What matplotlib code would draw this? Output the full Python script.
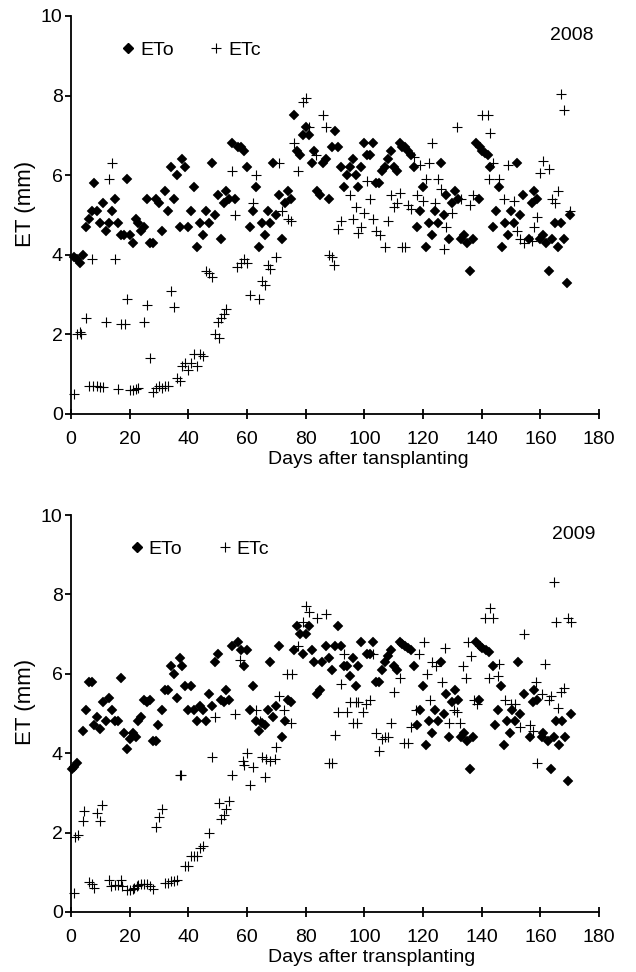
import matplotlib
matplotlib.use("Agg")
import matplotlib.pyplot as plt
from matplotlib.lines import Line2D

plt.rcParams['font.family'] = ['Liberation Sans', 'DejaVu Sans']

# ---------------- 2008 ----------------
eto08 = [(1,3.95),(2,3.9),(3,3.8),(4,4.0),(5,4.7),(6,4.9),(7,5.1),(8,5.8),(9,5.1),(10,4.8),(11,5.3),(12,4.6),
         (13,4.8),(14,5.1),(15,5.4),(16,4.8),(17,4.5),(18,4.5),(19,5.9),(20,4.5),(21,4.3),(22,4.9),(23,4.8),(24,4.6),
         (25,4.7),(26,5.4),(27,4.3),(28,4.3),(29,5.4),(30,5.3),(31,4.6),(32,5.6),(33,5.1),(34,6.2),(35,5.4),(36,6.0),
         (37,4.7),(38,6.4),(39,6.2),(40,4.7),(41,5.1),(42,5.7),(43,4.2),(44,4.8),(45,4.5),(46,5.1),(47,4.8),(48,6.3),
         (49,5.0),(50,5.5),(51,4.4),(52,5.3),(53,5.6),(54,5.4),(55,6.8),(56,5.4),(57,6.7),(58,6.7),(59,6.6),(60,6.2),
         (61,4.7),(62,5.1),(63,5.7),(64,4.2),(65,4.8),(66,4.5),(67,5.1),(68,4.8),(69,6.3),(70,5.0),(71,5.5),(72,4.4),
         (73,5.3),(74,5.6),(75,5.4),(76,7.5),(77,6.6),(78,6.5),(79,7.0),(80,7.2),(81,7.0),(82,6.3),(83,6.6),(84,5.6),
         (85,5.5),(86,6.3),(87,6.4),(88,5.4),(89,6.7),(90,7.1),(91,6.7),(92,6.2),(93,5.7),(94,6.0),(95,6.2),(96,6.4),
         (97,6.0),(98,5.7),(99,6.2),(100,6.8),(101,6.5),(102,6.5),(103,6.8),(104,5.8),(105,5.8),(106,6.1),(107,6.2),
         (108,6.4),(109,6.6),(110,6.2),(111,6.1),(112,6.8),(113,6.7),(114,6.7),(115,6.6),(116,6.5),(117,6.2),(118,4.7),
         (119,5.1),(120,5.7),(121,4.2),(122,4.8),(123,4.5),(124,5.1),(125,4.8),(126,6.3),(127,5.0),(128,5.5),(129,4.4),
         (130,5.3),(131,5.6),(132,5.4),(133,4.4),(134,4.5),(135,4.3),(136,3.6),(137,4.4),(138,6.8),(139,5.4),(139.5,6.7),
         (140,6.6),(141,6.55),(142,6.5),(143,6.2),(144,4.7),(145,5.1),(146,5.7),(147,4.2),(148,4.8),(149,4.5),(150,5.1),
         (151,4.8),(152,6.3),(153,5.0),(154,5.5),(156,4.4),(157,5.3),(158,5.6),(159,5.4),(160,4.4),(161,4.5),(162,4.3),
         (163,3.6),(164,4.4),(165,4.8),(166,4.2),(167,4.8),(168,4.4),(169,3.3),(170,5.0)]

etc08 = [(1,0.5),(2,2.0),(3,2.05),(3.5,2.0),(5,2.4),(7,3.9),(6,0.7),(7.5,0.7),(9,0.7),(10,0.68),(11,0.68),(12,2.3),
         (13,5.9),(14,6.3),(15,3.9),(16,0.63),(17,2.25),(18.5,2.25),(19,2.9),(20,0.6),(21,0.6),(22,0.63),(23,0.65),
         (25,2.3),(26,2.75),(27,1.4),(28,0.55),(29,0.65),(30,0.7),(31,0.65),(32,0.7),(33,0.7),(34,3.1),(35,2.7),
         (36,0.9),(37,0.82),(38,1.2),(39,1.28),(40,1.1),(41,1.28),(42,1.5),(43,1.2),(44,1.5),(45,1.45),(46,3.6),
         (47,3.55),(48,3.45),(49,2.0),(50,2.3),(50.5,1.9),(51,2.4),(52,2.5),(53,2.65),(55,6.1),(56,5.0),(56.5,3.7),
         (58,3.8),(59,3.9),(60,3.8),(61,3.0),(62,5.3),(63,6.0),(64,2.9),(65,3.35),(66,3.25),(67,3.75),(68,3.65),
         (70,3.95),(71,6.3),(72,5.1),(74,4.9),(75,4.85),(76,6.8),(77.5,6.1),(79,7.85),(80,7.95),(81,7.2),(83.5,6.5),
         (86,7.5),(87,7.2),(88,4.0),(89,3.95),(89.5,3.75),(91,4.65),(92,4.85),(95,5.5),(96,4.9),(97,5.2),(98,4.55),
         (99,4.7),(100,5.05),(101,5.85),(102,5.4),(103,4.9),(104,4.6),(105.5,4.5),(107,4.2),(108,4.85),(109,5.5),
         (110,5.2),(111,5.3),(112,5.55),(113,4.2),(114,4.2),(115,5.25),(116,5.15),(117,6.45),(118,5.5),(119,6.25),
         (120,5.35),(121,5.9),(122,6.3),(123,6.8),(124,5.3),(125,5.9),(126,5.65),(127,4.15),(128,4.7),(130,5.05),
         (131.7,7.2),(133,5.4),(136,5.25),(137,5.5),(140,7.5),(142,7.5),(143,7.05),(142.5,5.9),(144,6.3),(146,5.9),
         (147.5,5.4),(149,6.25),(151,5.35),(152,4.6),(153,4.4),(154.5,4.3),(157,4.35),(158,4.7),(159,4.95),(160,6.05),
         (161,6.35),(163,6.15),(164,5.4),(165,5.3),(166,5.6),(167,8.05),(168,7.65),(170,5.1)]

# ---------------- 2009 ----------------
eto09 = [(0.5,3.6),(1,3.65),(2,3.75),(4,4.55),(5,5.1),(6,5.8),(7,5.8),(8,4.7),(9,4.9),(10,4.6),(11,5.3),(12,4.8),
         (13,5.4),(14,5.1),(15,4.8),(16,4.8),(17,5.9),(18,4.5),(19,4.1),(20,4.35),(21,4.5),(22,4.4),(23,4.8),(24,4.9),
         (25,5.35),(26,5.3),(27,5.35),(28,4.3),(29,4.3),(29.5,4.7),(31,5.1),(32,5.6),(33,5.6),(34,6.2),(35,6.0),
         (36,5.4),(37,6.4),(38,6.2),(39,5.7),(40,5.1),(41,5.7),(42,5.1),(43,4.8),(44,5.2),(45,5.1),(46,4.8),(47,5.5),
         (48,5.2),(49,6.3),(50,6.5),(51,5.35),(52,5.3),(53,5.6),(54,5.35),(55,6.7),(57,6.8),(58,6.6),(59,6.2),(60,6.6),
         (61,5.1),(62,5.7),(63,4.8),(64,4.55),(65,4.75),(66,4.7),(67,5.1),(68,6.3),(69,4.9),(70,5.2),(71,6.7),(72,4.4),
         (73,4.8),(74,5.35),(75,5.3),(76,6.6),(77,7.2),(78,7.0),(79,6.5),(80,7.0),(81,7.2),(82,6.6),(83,6.3),(84,5.5),
         (85,5.6),(85.5,6.3),(87,6.7),(88,6.4),(89,6.1),(90,6.7),(91,7.2),(92,6.7),(93,6.2),(94,6.2),(95,5.95),(96,6.4),
         (97,5.7),(98,6.2),(99,6.8),(101,6.5),(102,6.5),(103,6.8),(104,5.8),(105,5.8),(106,6.1),(107,6.3),(108,6.45),
         (109,6.6),(110,6.2),(111,6.1),(112,6.8),(113,6.75),(114,6.7),(115,6.65),(116,6.6),(117,6.2),(118,4.7),
         (119,5.1),(120,5.7),(121,4.2),(122,4.8),(123,4.5),(124,5.1),(125,4.8),(126,6.3),(127,5.0),(128,5.5),(129,4.4),
         (130,5.3),(131,5.6),(132,5.35),(133,4.4),(134,4.5),(135,4.3),(136,3.6),(137,4.4),(138,6.8),(139,5.35),
         (139.5,6.7),(140,6.65),(141.5,6.6),(142.5,6.55),(144,6.2),(144.5,4.7),(145.5,5.1),(146.5,5.7),(147.5,4.2),
         (148.5,4.8),(149.5,4.5),(150.5,5.1),(151.5,4.8),(152.5,6.3),(153,5.0),(154.5,5.5),(156.5,4.4),(157.5,5.3),
         (158,5.6),(159,5.35),(160.5,4.4),(161,4.5),(162.5,4.3),(163.5,3.6),(164.5,4.4),(165.5,4.8),(166.5,4.2),
         (167.5,4.8),(168.5,4.4),(169.5,3.3),(170.5,5.0)]

etc09 = [(1,0.48),(1.5,1.9),(2.5,1.95),(4,2.3),(4.5,2.55),(6,0.75),(7,0.7),(8,0.6),(9,2.5),(10,2.3),(10.5,2.7),
         (13,0.8),(13.5,0.65),(15,0.67),(16,0.68),(17,0.8),(17.5,0.65),(19,0.55),(20,0.55),(21,0.58),(21.5,0.6),
         (22.5,0.65),(23,0.67),(24,0.7),(25,0.7),(26,0.7),(27,0.65),(28,0.57),(29,2.15),(30,2.4),(31,2.6),(32,0.73),
         (33,0.73),(34,0.77),(35,0.77),(36,0.8),(37,3.45),(37.5,3.45),(39,1.15),(40,1.15),(41,1.4),(42,1.4),(43,1.4),
         (44,1.6),(45,1.65),(47,2.0),(48,3.9),(49,4.9),(50.5,2.75),(51,2.35),(52,2.45),(53,2.6),(54,2.8),(55,3.45),
         (56,5.0),(57.5,6.35),(58.5,3.8),(59,3.7),(60,4.0),(61,3.2),(62,3.65),(63,5.1),(64.5,4.8),(65,3.9),(66,3.4),
         (66.5,3.85),(68,3.8),(69.5,3.85),(70,4.15),(71,5.45),(72.5,5.1),(73.5,6.0),(75.5,6.0),(75,4.75),(77.5,6.7),
         (79,7.3),(80,7.7),(81,7.55),(84,7.4),(87,7.5),(88,3.75),(89,3.75),(90,4.45),(91,5.05),(92,5.75),(93,6.5),
         (94,5.05),(95,5.3),(96,4.75),(97,5.3),(97.5,4.75),(98,5.3),(99.5,5.05),(100.5,5.25),(102,5.35),(103,6.5),
         (104,4.5),(105,4.05),(106,4.35),(107,4.4),(108,4.4),(109,4.75),(110,5.55),(112,5.9),(113.5,4.25),(115,4.25),
         (116,4.65),(117.5,5.1),(118.5,6.5),(120.5,6.8),(121.5,6.0),(122.5,5.35),(123,6.3),(124.5,6.2),(126.5,5.8),
         (127.5,6.65),(129,4.75),(130.5,5.1),(131.5,5.05),(132.5,4.75),(133.5,6.2),(134.5,5.9),(135.5,6.8),
         (136.5,6.45),(137.5,5.35),(138.5,5.25),(141,7.4),(142.5,5.9),(143,7.65),(144,7.4),(145.5,5.95),(146,6.25),
         (148,5.35),(150,5.25),(151.5,5.25),(153,4.65),(154.5,7.0),(156.5,4.7),(157.5,4.55),(158.5,5.8),(159,3.75),
         (160.5,5.5),(161.5,6.25),(163,5.35),(163.5,5.45),(164.5,8.3),(165.5,7.3),(166,5.15),(167,5.55),(168,5.65),
         (169.5,7.4),(170.5,7.3)]

years = ["2008", "2009"]
xlabels = ["Days after tansplanting", "Days after transplanting"]
xticks = list(range(0, 181, 20))
yticks = list(range(0, 11, 2))
series_names = ["ETo", "ETc"]

FS = 14
fig = plt.figure(figsize=(6.36, 9.72), dpi=100)
ax_rects = [[71/636, 1-414/972, 528/636, 398/972],
            [71/636, 1-912/972, 528/636, 397/972]]
legend_x = [0.094, 0.110]
year_x = [0.989, 0.994]

for i, (eto, etc) in enumerate([(eto08, etc08), (eto09, etc09)]):
    ax = fig.add_axes(ax_rects[i])
    ax.plot([p[0] for p in eto], [p[1] for p in eto], linestyle='none', marker='D',
            ms=5.6, color='black', mec='black', mew=0.3, clip_on=False)
    ax.plot([p[0] for p in etc], [p[1] for p in etc], linestyle='none', marker='+',
            ms=7.4, color='black', mew=0.8, clip_on=False)
    ax.set_xlim(0, 180)
    ax.set_ylim(0, 10)
    ax.set_xticks(xticks)
    ax.set_yticks(yticks)
    for s in ['top', 'right']:
        ax.spines[s].set_visible(False)
    for s in ['left', 'bottom']:
        ax.spines[s].set_linewidth(1.3)
    ax.tick_params(axis='x', direction='inout', length=7, width=1.3, labelsize=FS, pad=9)
    ax.tick_params(axis='y', direction='out', length=4, width=1.3, labelsize=FS, pad=2)
    ax.set_ylabel("ET (mm)", fontsize=16)
    ax.yaxis.set_label_coords(-0.066, 0.528)
    ax.set_xlabel(xlabels[i], fontsize=FS, ha='left')
    ax.xaxis.set_label_coords(0.373, -0.094)
    ax.text(year_x[i], 0.952, years[i], transform=ax.transAxes, ha='right', va='center', fontsize=FS)
    handles = [Line2D([], [], linestyle='none', marker='D', ms=5.6, color='black'),
               Line2D([], [], linestyle='none', marker='+', ms=7.4, mew=0.8, color='black')]
    ax.legend(handles, series_names, loc='center left', bbox_to_anchor=(legend_x[i], 0.915),
              ncol=2, frameon=False, fontsize=FS, handlelength=0.8, handletextpad=0.2,
              columnspacing=1.8, borderpad=0, borderaxespad=0)

fig.savefig("out.png", dpi=100)
